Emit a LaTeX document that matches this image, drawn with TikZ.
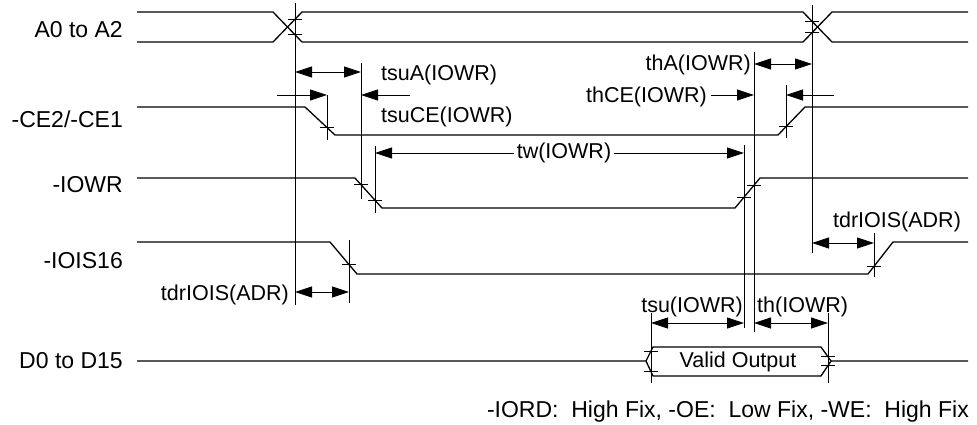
\documentclass[tikz,border=0pt]{standalone}
\usepackage{fontspec}
\setmainfont{Liberation Sans}
\usetikzlibrary{arrows.meta}

\newcommand{\tk}[2]{\draw[guide] (#1-7,#2) -- (#1+7,#2);}

\begin{document}
\begin{tikzpicture}[x=1pt, y=-1pt,
    sig/.style={line width=1.3pt},
    guide/.style={line width=0.7pt},
    dim/.style={line width=0.8pt, -{Triangle[length=17pt,width=11pt]}},
    ddim/.style={line width=0.8pt, {Triangle[length=17pt,width=11pt]}-{Triangle[length=17pt,width=11pt]}},
    lbl/.style={inner sep=0pt, font=\fontsize{21.5}{24}\selectfont},
    signame/.style={inner sep=0pt, anchor=base east, font=\fontsize{23}{26}\selectfont}]
    \useasboundingbox (0,0) rectangle (977,424);

    % signal names
    \node[signame] (a0) at (123,37) {A0 to A2};
    \node[signame] (ce) at (123,127) {-CE2/-CE1};
    \node[signame] (iowr) at (123,192) {-IOWR};
    \node[signame] (iois) at (123,268) {-IOIS16};
    \node[signame] (dat) at (123,368) {D0 to D15};

    % waveforms
    \draw[sig] (137,12) -- (273,12) -- (302,42) -- (803,42) -- (832,12) -- (968,12);
    \draw[sig] (137,42) -- (273,42) -- (302,12) -- (803,12) -- (832,42) -- (968,42);
    \draw[sig] (137,107) -- (305,107) -- (335,135) -- (778,135) -- (805,107) -- (968,107);
    \draw[sig] (137,178) -- (355,178) -- (382,208) -- (735,208) -- (760,178) -- (968,178);
    \draw[sig] (137,242) -- (330,242) -- (357,274) -- (868,274) -- (893,242) -- (968,242);
    \draw[sig] (137,361) -- (646,361) -- (653,347) -- (821,347) -- (831,361) -- (968,361);
    \draw[sig] (646,361) -- (653,376) -- (821,376) -- (831,361);
    \node[lbl, anchor=base] (valid) at (738,367) {Valid Output};

    % reference lines
    \draw[guide] (295,3) -- (295,305);
    \draw[guide] (812,5) -- (812,253);
    \draw[guide] (327,95) -- (327,140);
    \draw[guide] (361,63) -- (361,199);
    \draw[guide] (375,146) -- (375,213);
    \draw[guide] (744,145) -- (744,328);
    \draw[guide] (754,52) -- (754,332);
    \draw[guide] (786,85) -- (786,138);
    \draw[guide] (349,240) -- (349,303);
    \draw[guide] (874,233) -- (874,277);
    \draw[guide] (651,313) -- (651,383);
    \draw[guide] (828,313) -- (828,383);

    % ticks where edges cross the reference lines
    \tk{295}{34.8} \tk{295}{19.2} \tk{812}{21.3} \tk{812}{32.7}
    \tk{327}{127.5} \tk{786}{126.7}
    \tk{361}{184.7} \tk{375}{200} \tk{744}{197.2} \tk{754}{185.2}
    \tk{349}{264.5} \tk{874}{266.3}
    \tk{651}{351} \tk{651}{371} \tk{828}{356.8} \tk{828}{365.2}

    % timing arrows
    \draw[ddim] (295,72) -- (361,72);
    \draw[ddim] (754,64) -- (812,64);
    \draw[dim] (277,95) -- (327,95);
    \draw[dim] (410,95) -- (361,95);
    \draw[dim] (711,95) -- (754,95);
    \draw[dim] (834,95) -- (786,95);
    \draw[ddim] (375,153) -- (744,153);
    \draw[ddim] (295,292) -- (349,292);
    \draw[ddim] (812,243) -- (874,243);
    \draw[ddim] (651,323) -- (744,323);
    \draw[ddim] (754,323) -- (828,323);

    % timing labels
    \node[lbl, anchor=base west] (tsuA) at (381,80) {tsuA(IOWR)};
    \node[lbl, anchor=base west] (tsuCE) at (381,122) {tsuCE(IOWR)};
    \node[lbl, anchor=base east] (thA) at (751,70) {thA(IOWR)};
    \node[lbl, anchor=base east] (thCE) at (707,102) {thCE(IOWR)};
    \node[lbl, anchor=base, fill=white, inner xsep=3pt] (tw) at (564,158) {tw(IOWR)};
    \node[lbl, anchor=base east] (tdrlL) at (289,300) {tdrIOIS(ADR)};
    \node[lbl, anchor=base] (tdrlR) at (897,227) {tdrIOIS(ADR)};
    \node[lbl, anchor=base east] (tsu) at (743,312) {tsu(IOWR)};
    \node[lbl, anchor=base west] (th) at (757,312) {th(IOWR)};

    \node[signame] (note) at (969,417) {-IORD:\ \ High Fix, -OE:\ \ Low Fix, -WE:\ \ High Fix};
\end{tikzpicture}
\end{document}
